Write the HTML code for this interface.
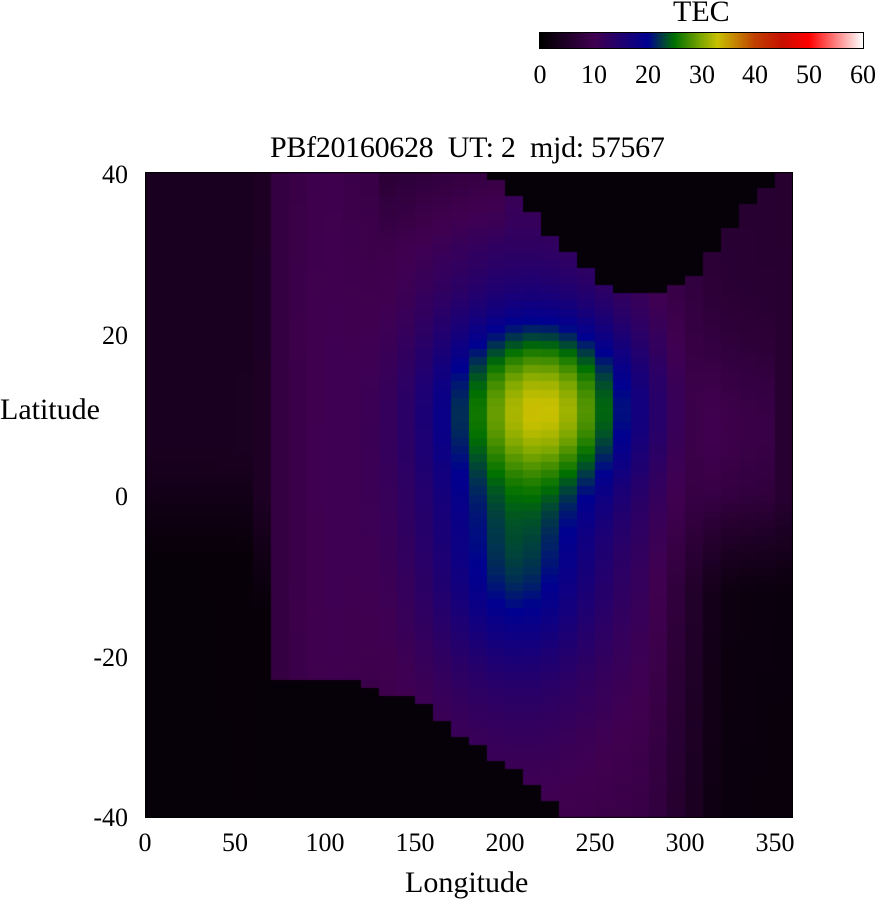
<!DOCTYPE html>
<html><head><meta charset="utf-8"><style>
body{margin:0;background:#fff;width:878px;height:900px;overflow:hidden;position:relative;font-family:"Liberation Serif",serif;color:#000}
.t{position:absolute;font-size:26px;line-height:1;white-space:pre}
.w{font-size:30px}
.r{text-align:right;width:60px}
.c{text-align:center;width:80px}
canvas{position:absolute}
</style></head><body>
<canvas id="c" width="648" height="646" style="left:145px;top:172px"></canvas>
<canvas id="cb" width="323" height="15" style="left:540px;top:33px;outline:1px solid #000"></canvas>
<div class="t w" style="left:673px;top:-3px">TEC</div>
<div class="t c" style="left:500px;top:62px">0</div>
<div class="t c" style="left:554px;top:62px">10</div>
<div class="t c" style="left:608px;top:62px">20</div>
<div class="t c" style="left:662px;top:62px">30</div>
<div class="t c" style="left:715px;top:62px">40</div>
<div class="t c" style="left:769px;top:62px">50</div>
<div class="t c" style="left:823px;top:62px">60</div>
<div class="t w" style="left:270px;top:133px;letter-spacing:-0.3px">PBf20160628  UT: 2  mjd: 57567</div>
<div class="t r" style="left:68px;top:162px">40</div>
<div class="t r" style="left:68px;top:323px">20</div>
<div class="t r" style="left:68px;top:484px">0</div>
<div class="t r" style="left:68px;top:645px">-20</div>
<div class="t r" style="left:68px;top:805px">-40</div>
<div class="t w" style="left:0px;top:395px">Latitude</div>
<div class="t c" style="left:105px;top:830px">0</div>
<div class="t c" style="left:195px;top:830px">50</div>
<div class="t c" style="left:285px;top:830px">100</div>
<div class="t c" style="left:375px;top:830px">150</div>
<div class="t c" style="left:465px;top:830px">200</div>
<div class="t c" style="left:555px;top:830px">250</div>
<div class="t c" style="left:645px;top:830px">300</div>
<div class="t c" style="left:735px;top:830px">350</div>
<div class="t w" style="left:405px;top:868px">Longitude</div>
<script>
var stops=[[0,[0,0,0]],[10,[64,0,80]],[20,[0,0,144]],[25,[0,112,0]],[30,[128,168,0]],[33,[200,192,0]],[40,[192,64,0]],[45,[200,16,0]],[50,[255,0,0]],[60,[255,255,255]]];
function cmap(v){v=Math.max(0,Math.min(60,v));for(var i=1;i<stops.length;i++){if(v<=stops[i][0]){var a=stops[i-1],b=stops[i],t=(v-a[0])/(b[0]-a[0]);return 'rgb('+[0,1,2].map(function(k){return Math.round(a[1][k]+t*(b[1][k]-a[1][k]))}).join(',')+')';}}return 'rgb(255,255,255)';}
function cl(x){return Math.max(0,Math.min(1,x));}
var topB={19:39,20:37,21:34.5,22:32,23:30,24:27.5,25:26,26:25,27:25,28:25,29:26,30:27,31:29.5,32:33,33:36,34:38,35:39.5};
var botB={12:-24,13:-25,14:-25,15:-26,16:-27.5,17:-29.5,18:-30.5,19:-32.5,20:-34,21:-36,22:-38,23:-39.5};
function f(c,lat){
 var lon=c*10+5,b;
 if(lon<60){b=1+3*cl((lat+8)/13);}
 else if(lon<70){b=1+3.5*cl((lat+14)/14);}
 else if(lon<280){b=8;if(lon>=130&&lon<200)b-=2*cl((lat-30)/10);}
 else{var w=cl((lon-280)/40);var rb=1.5+4.5*cl((lat+12)/12);if(lon>310&&lon<350)rb+=2.5*Math.exp(-Math.pow((lat-8)/10,2));b=8*(1-w)+rb*w;}
 if(lon>=80&&lon<130&&lat>-23)b+=1.5*Math.exp(-Math.pow((lon-100)/20,2));
 var g1=16*Math.exp(-Math.pow((lon-222)/50,2)-Math.pow((lat-11)/10,2));
 var g2=5.5*Math.exp(-Math.pow((lon-205)/35,2)-Math.pow((lat+9)/11,2));
 var g3=10*Math.exp(-Math.pow((lon-210)/70,2)-Math.pow((lat-2)/32,2));
 var v=b+g1+g2+g3;
 if(topB[c]!==undefined&&lat>topB[c])v=1;
 if(lon>=60&&lon<120&&lat<-23.3)v=1;
 if(botB[c]!==undefined&&lat<botB[c])v=1;
 return v;
}
var ctx=document.getElementById('c').getContext('2d');
var rh=646/80;
for(var c=0;c<36;c++)for(var r=0;r<80;r++){var lat=40-(r+0.5);ctx.fillStyle=cmap(f(c,lat));ctx.fillRect(c*18,Math.floor(r*rh),18,Math.ceil(rh)+1);}
ctx.strokeStyle='#000';ctx.lineWidth=1;ctx.strokeRect(0.5,0.5,647,645);
var cb=document.getElementById('cb').getContext('2d');
for(var x=0;x<323;x++){cb.fillStyle=cmap(x/322*60);cb.fillRect(x,0,1,15);}
</script>
</body></html>
